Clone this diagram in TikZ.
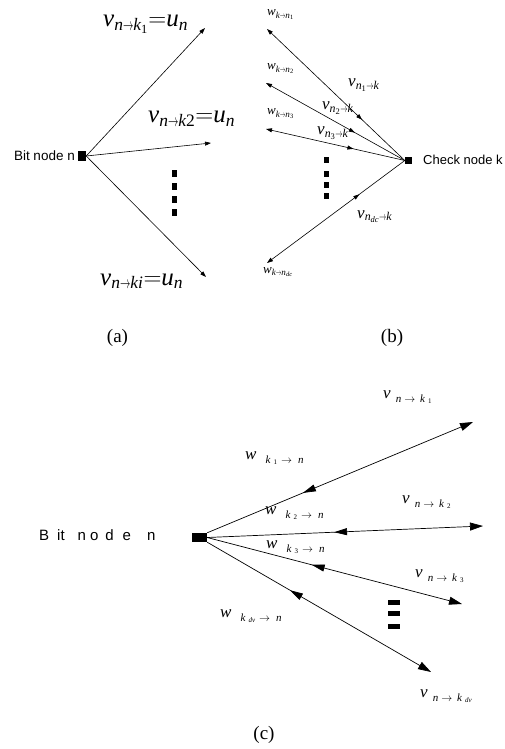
\documentclass[tikz,border=0pt]{standalone}
\usepackage{fontspec}
\usepackage{amsmath}
\usepackage{graphicx}
\setmainfont{Liberation Serif}
\newfontfamily\arialfont{Liberation Sans}
\usetikzlibrary{arrows.meta,decorations.markings}
\newcommand\myit[1]{\textit{#1}}
\newcommand\myup[1]{\textup{#1}}
\newcommand\sarr{\mathrel{\scalebox{0.6}[1]{$\scriptstyle\to$}}}
\newcommand\csub[1]{\raisebox{-4pt}{\fontsize{11}{11}\selectfont #1}}
\newcommand\cssub[1]{\raisebox{-1.5pt}{\fontsize{7}{7}\selectfont #1}}
\newcommand\carr{$\rightarrow$}
\begin{document}
\begin{tikzpicture}[x=1pt,y=-1pt,
  blk/.style={fill=black,draw=none,inner sep=0pt},
  lbl/.style={inner sep=0pt,anchor=base west},
  smalltip/.style={-{Triangle[length=6pt,width=4pt]},line width=0.6pt},
  midin/.style={postaction={decorate},decoration={markings,mark=at position #1 with {\arrow{Triangle[length=6pt,width=4pt]}}}},
  bigline/.style={-{Triangle[length=13pt,width=8pt]},line width=0.7pt},
  midback/.style={postaction={decorate},decoration={markings,mark=at position #1 with {\arrowreversed{Triangle[length=13pt,width=7pt]}}}}]
\useasboundingbox (0,0) rectangle (504,749);

% ---------------- panel (a)
\node[blk,minimum width=8pt,minimum height=10pt] (bsa) at (82,156) {};
\node[inner sep=0pt,anchor=base east] (bta) at (75,160) {\arialfont\fontsize{13.5}{13.5}\selectfont Bit node n};
\coordinate (a1) at (205,28);
\coordinate (a2) at (211,143);
\coordinate (a3) at (206,277);
\draw[smalltip] (bsa.east) -- (a1);
\draw[smalltip] (bsa.east) -- (a2);
\draw[smalltip] (bsa.east) -- (a3);
\node[lbl] (la1) at (103,27) {\fontsize{25}{25}\selectfont $\myit{v}_{\myit{n}\sarr\myit{k}_{\myup{1}}}{=}\myit{u}_{\myit{n}}$};
\node[lbl] (la2) at (148,123) {\fontsize{25}{25}\selectfont $\myit{v}_{\myit{n}\sarr\myit{k}\myup{2}}{=}\myit{u}_{\myit{n}}$};
\node[lbl] (la3) at (100,285) {\fontsize{25}{25}\selectfont $\myit{v}_{\myit{n}\sarr\myit{k}\myit{i}}{=}\myit{u}_{\myit{n}}$};
\foreach \yy [count=\i] in {173.5,186,199,212.5}
  \node[blk,minimum width=5pt,minimum height=7pt] (da\i) at (174.5,\yy) {};
\node[inner sep=0pt] (capa) at (117.5,338) {\fontsize{19}{19}\selectfont (a)};

% ---------------- panel (b)
\node[blk,minimum width=7pt,minimum height=7pt] (chk) at (408.5,160.5) {};
\node[inner sep=0pt,anchor=base west] (ctx) at (423,164) {\arialfont\fontsize{13}{13}\selectfont Check node k};
\coordinate (b1) at (267,29);
\coordinate (b2) at (266,83);
\coordinate (b3) at (266,129);
\coordinate (b4) at (267,263);
\draw[line width=0.6pt,{Triangle[length=6pt,width=4pt]}-,midin=0.69] (b1) -- (chk.west);
\draw[line width=0.6pt,{Triangle[length=6pt,width=4pt]}-,midin=0.64] (b2) -- (chk.west);
\draw[line width=0.6pt,{Triangle[length=6pt,width=4pt]}-,midin=0.63] (b3) -- (chk.west);
\draw[line width=0.6pt,{Triangle[length=6pt,width=4pt]}-,midin=0.67] (b4) -- (chk.west);
\node[lbl] (wb1) at (267,16) {\fontsize{13}{13}\selectfont $\myit{w}_{\myit{k}\sarr\myit{n}_{\myup{1}}}$};
\node[lbl] (wb2) at (267,70) {\fontsize{13}{13}\selectfont $\myit{w}_{\myit{k}\sarr\myit{n}_{\myup{2}}}$};
\node[lbl] (wb3) at (267,115) {\fontsize{13}{13}\selectfont $\myit{w}_{\myit{k}\sarr\myit{n}_{\myup{3}}}$};
\node[lbl] (wb4) at (263,273) {\fontsize{13}{13}\selectfont $\myit{w}_{\myit{k}\sarr\myit{n}_{\myit{dc}}}$};
\node[lbl] (vb1) at (348,87) {\fontsize{17}{17}\selectfont $\myit{v}_{\myit{n}_{\myup{1}}\sarr\myit{k}}$};
\node[lbl] (vb2) at (322,110) {\fontsize{17}{17}\selectfont $\myit{v}_{\myit{n}_{\myup{2}}\sarr\myit{k}}$};
\node[lbl] (vb3) at (317,135) {\fontsize{17}{17}\selectfont $\myit{v}_{\myit{n}_{\myup{3}}\sarr\myit{k}}$};
\node[lbl] (vb4) at (357,218) {\fontsize{17}{17}\selectfont $\myit{v}_{\myit{n}_{\myit{dc}}\sarr\myit{k}}$};
\foreach \yy [count=\i] in {160,173.5,185,196}
  \node[blk,minimum width=5pt,minimum height=6pt] (db\i) at (326.5,\yy) {};
\node[inner sep=0pt] (capb) at (392,338) {\fontsize{19}{19}\selectfont (b)};

% ---------------- panel (c)
\node[blk,minimum width=15pt,minimum height=9pt] (bsc) at (199.5,537.5) {};
\node[inner sep=0pt,anchor=base west] (btc) at (39,540) {\arialfont\fontsize{15}{15}\selectfont B\hspace{8pt}it\hspace{13pt}n\hspace{4pt}o\hspace{7pt}d\hspace{9pt}e\hspace{16pt}n};
\coordinate (c1) at (473,422);
\coordinate (c2) at (483,526);
\coordinate (c3) at (462,604);
\coordinate (c4) at (431,672);
\draw[bigline,midback=0.36] (bsc.north east) -- (c1);
\draw[bigline,midback=0.46] (bsc.east) -- (c2);
\draw[bigline,midback=0.41] (bsc.east) -- (c3);
\draw[bigline,midback=0.37] (bsc.south east) -- (c4);
\node[lbl] (vc1) at (383,398) {\fontsize{17}{17}\selectfont\myit{v}\hspace{5pt}\csub{\myit{n}\hspace{3pt}\carr\hspace{5pt}\myit{k}\hspace{3pt}\cssub{1}}};
\node[lbl] (wc1) at (245,459) {\fontsize{17}{17}\selectfont\myit{w}\hspace{9pt}\csub{\myit{k}\hspace{3pt}\cssub{1}\hspace{4pt}\carr\hspace{6pt}\myit{n}}};
\node[lbl] (vc2) at (402,503) {\fontsize{17}{17}\selectfont\myit{v}\hspace{5pt}\csub{\myit{n}\hspace{3pt}\carr\hspace{5pt}\myit{k}\hspace{3pt}\cssub{2}}};
\node[lbl] (wc2) at (265,514) {\fontsize{17}{17}\selectfont\myit{w}\hspace{9pt}\csub{\myit{k}\hspace{3pt}\cssub{2}\hspace{4pt}\carr\hspace{6pt}\myit{n}}};
\node[lbl] (wc3) at (266,548) {\fontsize{17}{17}\selectfont\myit{w}\hspace{9pt}\csub{\myit{k}\hspace{3pt}\cssub{3}\hspace{4pt}\carr\hspace{6pt}\myit{n}}};
\node[lbl] (vc3) at (415,577) {\fontsize{17}{17}\selectfont\myit{v}\hspace{5pt}\csub{\myit{n}\hspace{3pt}\carr\hspace{5pt}\myit{k}\hspace{3pt}\cssub{3}}};
\node[lbl] (wc4) at (220,617) {\fontsize{17}{17}\selectfont\myit{w}\hspace{9pt}\csub{\myit{k}\hspace{3pt}\cssub{\myit{dv}}\hspace{4pt}\carr\hspace{6pt}\myit{n}}};
\node[lbl] (vc4) at (420,697) {\fontsize{17}{17}\selectfont\myit{v}\hspace{5pt}\csub{\myit{n}\hspace{3pt}\carr\hspace{5pt}\myit{k}\hspace{3pt}\cssub{\myit{dv}}}};
\foreach \yy [count=\i] in {602.5,613.5,626}
  \node[blk,minimum width=12pt,minimum height=5pt] (dc\i) at (394,\yy) {};
\node[inner sep=0pt] (capc) at (264,735) {\fontsize{19}{19}\selectfont (c)};
\end{tikzpicture}
\end{document}
